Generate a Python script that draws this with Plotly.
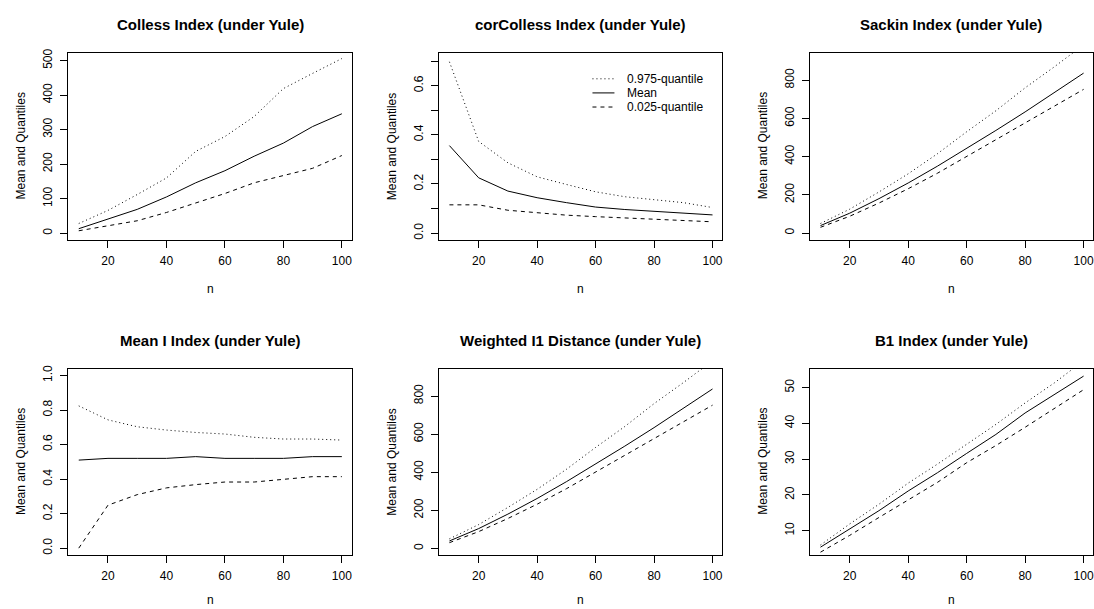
import plotly.graph_objects as go

W, H = 1094, 609

# tree sizes
n = [10, 20, 30, 40, 50, 60, 70, 80, 90, 100]

# Colless index
colless_hi = [28, 66, 112, 160, 237, 280, 338, 419, 463, 506]
colless_mean = [13, 40, 69, 105, 146, 181, 223, 261, 309, 346]
colless_lo = [7, 21, 36, 60, 88, 115, 146, 168, 188, 225]

# corrected Colless index
corcolless_hi = [0.697, 0.373, 0.286, 0.229, 0.198, 0.168, 0.148, 0.137, 0.124, 0.104]
corcolless_mean = [0.356, 0.225, 0.171, 0.144, 0.124, 0.106, 0.096, 0.088, 0.082, 0.074]
corcolless_lo = [0.115, 0.115, 0.093, 0.082, 0.073, 0.067, 0.061, 0.055, 0.051, 0.046]

# Sackin index
sackin_hi = [50, 125, 215, 310, 415, 530, 640, 760, 870, 985]
sackin_mean = [39, 104, 180, 262, 350, 442, 537, 634, 735, 837]
sackin_lo = [30, 88, 157, 232, 313, 400, 487, 575, 665, 752]

# mean I index
meani_hi = [0.824, 0.743, 0.703, 0.684, 0.670, 0.661, 0.642, 0.632, 0.632, 0.626]
meani_mean = [0.51, 0.52, 0.52, 0.52, 0.53, 0.52, 0.52, 0.52, 0.53, 0.53]
meani_lo = [0.0, 0.249, 0.310, 0.349, 0.368, 0.383, 0.383, 0.398, 0.414, 0.414]

# weighted I1 distance
wi1_hi = [50, 125, 215, 310, 415, 530, 640, 760, 870, 985]
wi1_mean = [39, 104, 180, 262, 350, 442, 537, 634, 735, 837]
wi1_lo = [30, 88, 157, 232, 313, 400, 487, 575, 665, 752]

# B1 index
b1_hi = [6.0, 11.9, 17.4, 23.3, 28.6, 34.1, 39.7, 45.7, 51.3, 57.5]
b1_mean = [5.4, 10.5, 15.6, 21.1, 26.2, 31.6, 36.9, 42.9, 48.0, 53.2]
b1_lo = [4.0, 8.7, 13.7, 18.6, 23.5, 29.0, 33.8, 38.9, 44.2, 49.4]

titles = [
    "Colless Index (under Yule)",
    "corColless Index (under Yule)",
    "Sackin Index (under Yule)",
    "Mean I Index (under Yule)",
    "Weighted I1 Distance (under Yule)",
    "B1 Index (under Yule)",
]
series = [
    (colless_hi, colless_mean, colless_lo),
    (corcolless_hi, corcolless_mean, corcolless_lo),
    (sackin_hi, sackin_mean, sackin_lo),
    (meani_hi, meani_mean, meani_lo),
    (wi1_hi, wi1_mean, wi1_lo),
    (b1_hi, b1_mean, b1_lo),
]
y_ranges = [
    [-19, 523],
    [-0.027, 0.734],
    [-35, 944],
    [-0.04, 1.04],
    [-35, 944],
    [3.2, 55.3],
]
y_ticks = [
    ([0, 100, 200, 300, 400, 500], ["0", "100", "200", "300", "400", "500"]),
    ([0, 0.1, 0.2, 0.3, 0.4, 0.5, 0.6, 0.7], ["0.0", "", "0.2", "", "0.4", "", "0.6", ""]),
    ([0, 200, 400, 600, 800], ["0", "200", "400", "600", "800"]),
    ([0, 0.2, 0.4, 0.6, 0.8, 1.0], ["0.0", "0.2", "0.4", "0.6", "0.8", "1.0"]),
    ([0, 200, 400, 600, 800], ["0", "200", "400", "600", "800"]),
    ([10, 20, 30, 40, 50], ["10", "20", "30", "40", "50"]),
]
x_ticks = [20, 40, 60, 80, 100]

# plot-region boxes in pixels: (left, right) per column, (top, bottom) per row
cols = [(68.3, 352.7), (439.3, 722.7), (810.7, 1093.5)]
rows = [(49.0, 237.3), (367.0, 554.7)]
px_per_unit = (352.7 - 68.3) / 97.2

FONT = "Liberation Sans, Arial, sans-serif"
styles = [("0.975-quantile", "1px,3px"), ("Mean", "solid"), ("0.025-quantile", "4px,4px")]


def fx(p):
    return p / W


def fy(p):
    return 1 - p / H


fig = go.Figure()
layout = {}
annotations = []
shapes = []

for i in range(6):
    r, c = divmod(i, 3)
    k = "" if i == 0 else str(i + 1)
    xa, ya = "x" + k, "y" + k
    (l, rr), (t, b) = cols[c], rows[r]
    for vals, (name, dash) in zip(series[i], styles):
        fig.add_trace(go.Scatter(
            x=n, y=vals, mode="lines", name=name, xaxis=xa, yaxis=ya,
            line=dict(color="black", width=1, dash=dash), showlegend=False,
        ))
    x_hi = 6.4 + (rr - l) / px_per_unit
    axis_common = dict(
        showgrid=False, zeroline=False, showline=True, mirror=True,
        linecolor="black", linewidth=1, ticks="outside", ticklen=7,
        tickwidth=1, tickcolor="black",
        tickfont=dict(family=FONT, size=12, color="black"),
    )
    layout["xaxis" + k] = dict(
        domain=[fx(l), fx(rr)], anchor=ya, range=[6.4, x_hi],
        tickvals=x_ticks, ticktext=[str(v) for v in x_ticks],
        ticklabelstandoff=3, **axis_common,
    )
    layout["yaxis" + k] = dict(
        domain=[fy(b), fy(t)], anchor=xa, range=y_ranges[i],
        tickvals=y_ticks[i][0], ticktext=y_ticks[i][1], tickangle=-90,
        ticklabelstandoff=3, **axis_common,
    )
    cx = (l + rr) / 2
    cy = (t + b) / 2
    annotations.append(dict(
        text="<b>" + titles[i] + "</b>", x=fx(cx), y=fy(t - 28),
        xref="paper", yref="paper", showarrow=False,
        xanchor="center", yanchor="middle",
        font=dict(family=FONT, size=15, color="black"),
    ))
    annotations.append(dict(
        text="n", x=fx(cx), y=fy(min(b + 50, H - 9)), xref="paper", yref="paper",
        showarrow=False, xanchor="center", yanchor="middle",
        font=dict(family=FONT, size=12, color="black"),
    ))
    annotations.append(dict(
        text="Mean and Quantiles", x=fx(l - 47), y=fy(cy), xref="paper",
        yref="paper", showarrow=False, textangle=-90,
        xanchor="center", yanchor="middle",
        font=dict(family=FONT, size=12, color="black"),
    ))

# key inside the corColless panel
for j, (name, dash) in enumerate(styles):
    yy = 75.3 + j * 14.2
    shapes.append(dict(
        type="line", xref="paper", yref="paper",
        x0=fx(593), x1=fx(615), y0=fy(yy), y1=fy(yy),
        line=dict(color="black", width=1, dash=dash),
    ))
    annotations.append(dict(
        text=name, x=fx(626), y=fy(yy), xref="paper", yref="paper",
        showarrow=False, xanchor="left", yanchor="middle",
        font=dict(family=FONT, size=12, color="black"),
    ))

fig.update_layout(
    width=W, height=H, margin=dict(l=0, r=0, t=0, b=0),
    paper_bgcolor="white", plot_bgcolor="white",
    annotations=annotations, shapes=shapes, showlegend=False,
    **layout,
)

fig.write_html("out.html")
